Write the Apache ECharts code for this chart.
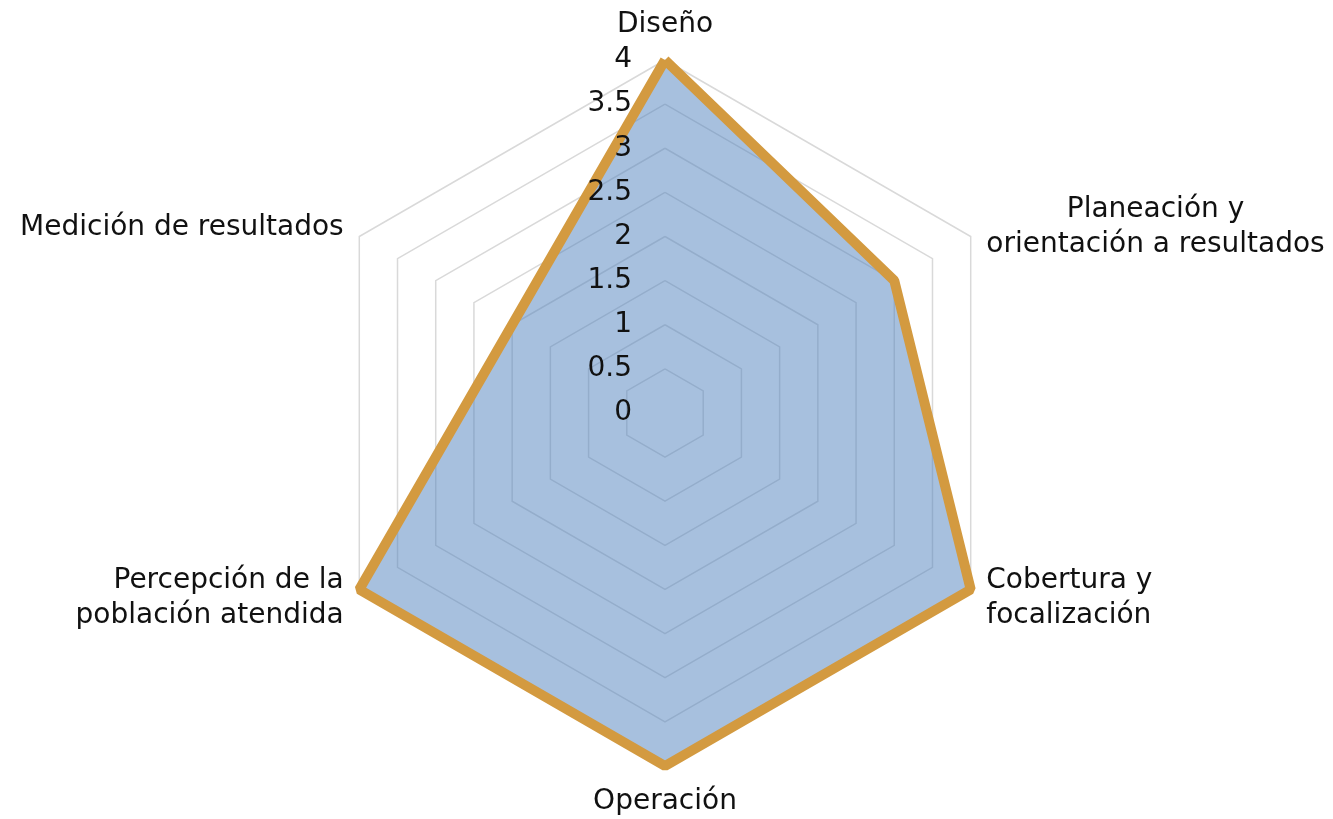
<!DOCTYPE html>
<html><head><meta charset="utf-8">
<script src="https://cdn.jsdelivr.net/npm/echarts@6/dist/echarts.min.js"></script>
<style>html,body{margin:0;padding:0;background:#fff}#c{width:1333px;height:819px}</style>
</head><body><div id="c"></div>
<script>
// Categories in clockwise order starting from the top
const categories = ['Diseño', 'Planeación y\norientación a resultados', 'Cobertura y\nfocalización', 'Operación', 'Percepción de la\npoblación atendida', 'Medición de resultados'];
const values = [4, 3, 4, 4, 4, 2];
const axisMin = 0;
const axisMax = 4;
const splitCount = 8; // ticks 0, 0.5, ... 4

// ECharts places indicators counter-clockwise: reorder
const order = [0, 5, 4, 3, 2, 1];
const font = '"DejaVu Sans", sans-serif';
const FS = 28;
const makeIndicators = (withLabel) => order.map((i, k) => {
  const ind = { name: categories[i], min: axisMin, max: axisMax };
  if (withLabel && k === 0) ind.axisLabel = { show: true, fontSize: FS, fontFamily: font, color: '#111', margin: 33 };
  return ind;
});
const seriesValues = order.map(i => values[i]);

const common = {
  center: [665, 413],
  radius: 353,
  startAngle: 90,
  splitNumber: splitCount,
  shape: 'polygon',
  axisLine: { show: false },
  axisTick: { show: false },
  axisLabel: { show: false },
  splitArea: { show: false }
};

const chart = echarts.init(document.getElementById('c'), null, { renderer: 'canvas' });
chart.setOption({
  animation: false,
  backgroundColor: '#fff',
  radar: [
    Object.assign({}, common, {
      z: 0,
      indicator: makeIndicators(false),
      axisNameGap: 18,
      axisName: {
        color: '#111',
        fontSize: FS,
        fontFamily: font,
        lineHeight: 35,
        formatter: (name) => name.indexOf('Planeación') === 0
          ? name.split('\n').map(s => '{c|' + s + '}').join('\n')
          : name,
        rich: { c: { align: 'center', fontSize: FS, fontFamily: font, color: '#111', lineHeight: 35 } }
      },
      splitLine: { lineStyle: { color: '#D9D9D9', width: 1.5 } }
    }),
    Object.assign({}, common, {
      z: 10,
      indicator: makeIndicators(true),
      axisName: { show: false },
      splitLine: { show: false }
    })
  ],
  series: [{
    type: 'radar',
    radarIndex: 0,
    z: 2,
    symbol: 'none',
    lineStyle: { width: 0, opacity: 0 },
    areaStyle: { color: 'rgba(79,129,189,0.5)', opacity: 1 },
    data: [{ value: seriesValues, name: 'Valoración' }]
  }, {
    type: 'radar',
    radarIndex: 0,
    z: 3,
    symbol: 'none',
    lineStyle: { color: '#D39A40', width: 10, join: 'bevel' },
    data: [{ value: seriesValues, name: 'Valoración' }]
  }]
});
</script></body></html>
